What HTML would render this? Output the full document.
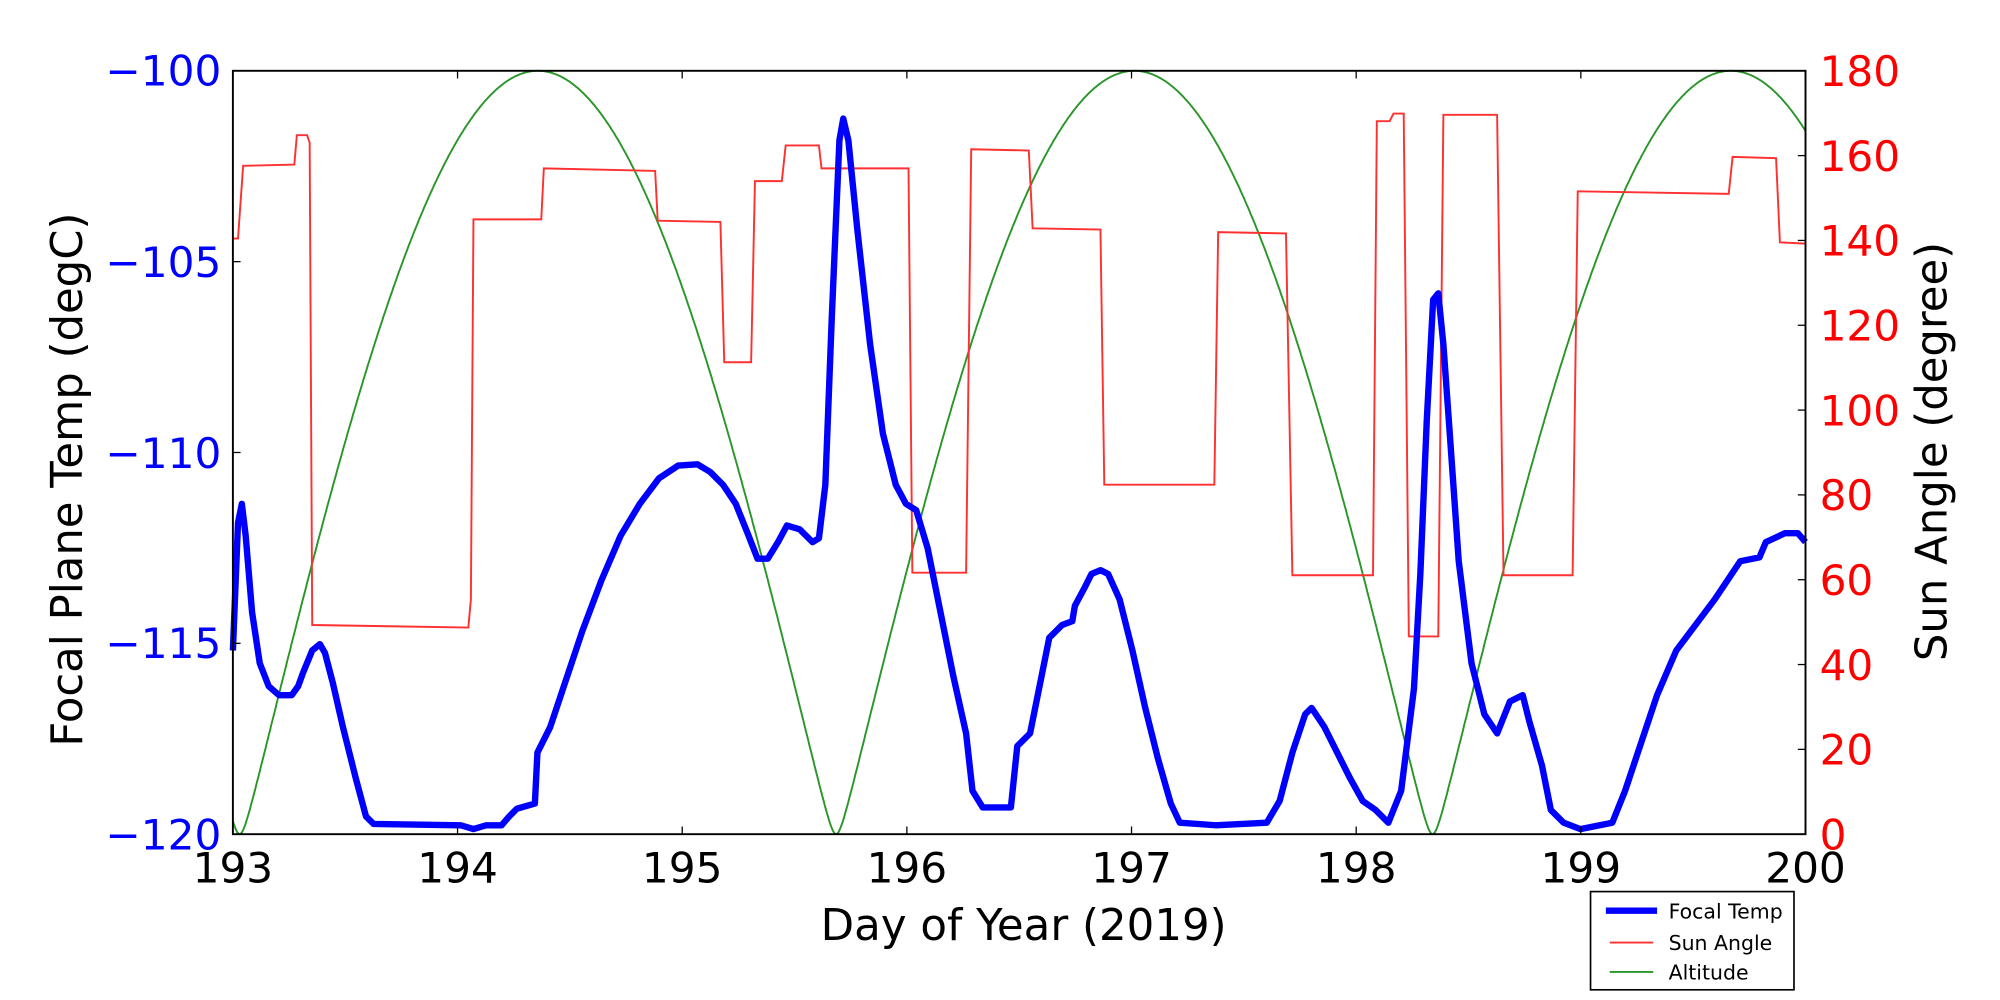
<!DOCTYPE html><html><head><style>body{margin:0;background:#fff}svg{display:block}text{font-family:"DejaVu Sans","Liberation Sans",sans-serif}</style></head><body>
<svg id="s" width="2000" height="1000" viewBox="0 0 1563 784" preserveAspectRatio="none" xmlns="http://www.w3.org/2000/svg">
<rect width="1563" height="784" fill="#fff"/>
<g id="plot">
<path id="green" fill="none" stroke="#2a962a" stroke-width="1.5" d=""/>
<polyline fill="none" stroke="#ff3030" stroke-width="1.5" points="182,187 186,187 190,130 230,129 232,106 240,106 242,112 244,490 366,492 368,470 370,172 423,172 425,132 512,134 514,173 563,174 566,284 587,284 590,142 611,142 614,114 640,114 642,132 710,132 713,449 755,449 759,117 804,118 807,179 860,180 863,380 949,380 952,182 1005,183 1010,451 1073,451 1076,95 1086,95 1089,89 1097,89 1101,499 1124,499 1128,90 1170,90 1175,451 1229,451 1233,150 1351,152 1354,123 1388,124 1391,190 1411,191"/>
<polyline fill="none" stroke="#0000ff" stroke-width="5" stroke-linejoin="round" points="182,510 186,410 189,395 192,420 197,480 203,520 210,538 218,545 228,545 233,538 237,527 244,510 250,505 254,512 260,535 268,570 278,610 286,640 292,646 360,647 370,650 380,647 392,647 398,640 404,634 418,630 420,590 430,570 440,540 455,495 470,455 485,420 500,395 515,375 530,365 545,364 555,370 565,380 575,395 585,420 592,438 600,438 608,425 615,412 625,415 635,425 640,422 645,380 650,250 656,110 659,93 663,110 670,180 680,270 690,340 700,380 708,395 716,400 725,430 735,480 745,530 755,575 760,620 768,633 790,633 795,585 805,575 810,550 820,500 830,490 838,487 840,475 848,460 853,450 860,447 866,450 875,470 885,510 895,555 905,595 915,630 922,645 950,647 990,645 1000,628 1010,590 1020,560 1025,555 1035,570 1045,590 1055,610 1065,628 1075,635 1085,645 1095,620 1105,540 1110,450 1115,330 1120,235 1124,230 1128,270 1133,340 1140,440 1150,520 1160,560 1170,575 1180,550 1190,545 1195,565 1205,600 1212,635 1222,645 1235,650 1260,645 1270,620 1280,590 1295,545 1310,510 1325,490 1340,470 1350,455 1360,440 1375,437 1380,425 1395,418 1405,418 1411,425"/>
</g>
<rect x="182" y="55.5" width="1229" height="598.5" fill="none" stroke="#000" stroke-width="1.5"/>
<g id="ticks" stroke="#000" stroke-width="1"></g>
<g font-size="33" fill="#00f" text-anchor="end">
<text x="173" y="67">−100</text><text x="173" y="217">−105</text><text x="173" y="367">−110</text><text x="173" y="516">−115</text><text x="173" y="666">−120</text></g>
<g font-size="33" fill="#f00" id="rt"></g>
<g font-size="33" fill="#000" text-anchor="middle" id="xt"></g>
<text x="800" y="737" font-size="34" text-anchor="middle">Day of Year (2019)</text>
<text transform="translate(64,376) rotate(-90)" font-size="34" text-anchor="middle">Focal Plane Temp (degC)</text>
<text transform="translate(1521,354) rotate(-90)" font-size="34" text-anchor="middle">Sun Angle (degree)</text>
<rect x="1243" y="699" width="159" height="77" fill="#fff" stroke="#000" stroke-width="1.3"/>
<line x1="1255" y1="714" x2="1295" y2="714" stroke="#00f" stroke-width="5"/>
<line x1="1258" y1="739" x2="1292" y2="739" stroke="#ff3030" stroke-width="1.5"/>
<line x1="1258" y1="762" x2="1292" y2="762" stroke="#2a962a" stroke-width="1.5"/>
<g font-size="16"><text x="1304" y="720">Focal Temp</text><text x="1304" y="745">Sun Angle</text><text x="1304" y="768">Altitude</text></g>
</svg>
<script>
var L=182,R=1411,T=55.5,B=654;
function X(d){return L+(d-193)*(R-L)/7}
function S(s){return B-s*(B-T)/180}
var d="";for(var i=0;i<=1400;i++){var t=193+7*i/1400;var sn=Math.sin(Math.PI*(t-193.03)/2.655);var v=180*(Math.sqrt(sn*sn+0.0009)-0.03)/(Math.sqrt(1.0009)-0.03);d+=(i?"L":"M")+X(t).toFixed(1)+","+S(v).toFixed(1);}
document.getElementById("green").setAttribute("d",d);
var tk="",xt="",rt="";
for(var k=0;k<=7;k++){var x=X(193+k);tk+='<line x1="'+x+'" y1="'+B+'" x2="'+x+'" y2="'+(B-6)+'"/><line x1="'+x+'" y1="'+T+'" x2="'+x+'" y2="'+(T+6)+'"/>';xt+='<text x="'+x+'" y="692">'+(193+k)+'</text>';}
for(var k=0;k<=4;k++){var y=T+k*(B-T)/4;tk+='<line x1="'+L+'" y1="'+y+'" x2="'+(L+6)+'" y2="'+y+'"/>';}
for(var k=0;k<=9;k++){var y=S(k*20);tk+='<line x1="'+R+'" y1="'+y+'" x2="'+(R-6)+'" y2="'+y+'"/>';rt+='<text x="1422" y="'+(y+12)+'">'+(k*20)+'</text>';}
document.getElementById("ticks").innerHTML=tk;document.getElementById("xt").innerHTML=xt;document.getElementById("rt").innerHTML=rt;
</script>
</body></html>
